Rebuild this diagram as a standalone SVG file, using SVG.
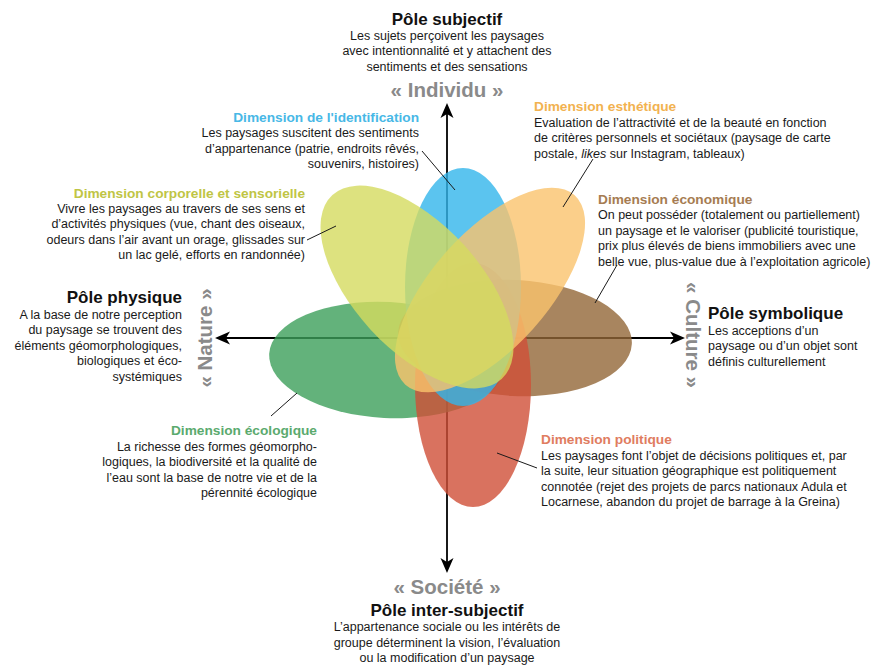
<svg xmlns="http://www.w3.org/2000/svg" width="871" height="668" viewBox="0 0 871 668">
<defs>
<style>
text{font-family:"Liberation Sans",Arial,sans-serif;font-size:12.5px;fill:#1a1a1a}
.h{font-weight:bold;font-size:13.7px}
.p{font-weight:bold;font-size:17px;fill:#111}
.g{font-weight:bold;font-size:20.5px;fill:#8a8a8a}
.r{text-anchor:end}
.m{text-anchor:middle}
.lead{stroke:#1a1a1a;stroke-width:1;fill:none}
.axis{stroke:#000;stroke-width:1.8;fill:none}
.petal{opacity:0.8}
</style>
<marker id="arr" viewBox="-8 -7 17 14" markerWidth="17" markerHeight="14" refX="0" refY="0" orient="auto-start-reverse" markerUnits="userSpaceOnUse">
<path d="M8,0 L-7,-6.5 L-3,0 L-7,6.5 Z" fill="#000"/>
</marker>
</defs>
<rect width="871" height="668" fill="#fff"/>

<g id="axes">
<path class="axis" d="M447,111 V565" marker-start="url(#arr)" marker-end="url(#arr)"/>
<path class="axis" d="M223,338 H677" marker-start="url(#arr)" marker-end="url(#arr)"/>
</g>

<g id="dim-ecologique">
<ellipse class="petal" cx="0" cy="0" rx="118" ry="58" transform="translate(387 360) rotate(3)" fill="#3C9F5A"/>
<text class="r" x="317"><tspan class="h" x="317" y="435" style="fill:#5BAA6E">Dimension écologique</tspan><tspan x="317" y="450.5">La richesse des formes géomorpho-</tspan><tspan x="317" y="466">logiques, la biodiversité et la qualité de</tspan><tspan x="317" y="481.5">l’eau sont la base de notre vie et de la</tspan><tspan x="317" y="497">pérennité écologique</tspan></text>
</g>

<g id="dim-economique">
<ellipse class="petal" cx="0" cy="0" rx="117" ry="58" transform="translate(515 338) rotate(3)" fill="#926637"/>
<text x="598"><tspan class="h" x="598" y="203.5" style="fill:#A67C52">Dimension économique</tspan><tspan x="598" y="219">On peut posséder (totalement ou partiellement)</tspan><tspan x="598" y="234.5">un paysage et le valoriser (publicité touristique,</tspan><tspan x="598" y="250">prix plus élevés de biens immobiliers avec une</tspan><tspan x="598" y="265.5">belle vue, plus-value due à l’exploitation agricole)</tspan></text>
</g>

<g id="dim-politique">
<ellipse class="petal" cx="473" cy="385" rx="58" ry="122" fill="#D04F37"/>
<text x="541"><tspan class="h" x="541" y="444" style="fill:#E07C60">Dimension politique</tspan><tspan x="541" y="459.5">Les paysages font l’objet de décisions politiques et, par</tspan><tspan x="541" y="475">la suite, leur situation géographique est politiquement</tspan><tspan x="541" y="490.5">connotée (rejet des projets de parcs nationaux Adula et</tspan><tspan x="541" y="506">Locarnese, abandon du projet de barrage à la Greina)</tspan></text>
</g>

<g id="dim-identification">
<ellipse class="petal" cx="463" cy="287" rx="58" ry="119" fill="#32B5EB"/>
<text class="r" x="419"><tspan class="h" x="419" y="122" style="fill:#48B8E6">Dimension de l'identification</tspan><tspan x="419" y="137">Les paysages suscitent des sentiments</tspan><tspan x="419" y="152.5">d’appartenance (patrie, endroits rêvés,</tspan><tspan x="419" y="168">souvenirs, histoires)</tspan></text>
</g>

<g id="dim-esthetique">
<ellipse class="petal" cx="0" cy="0" rx="58" ry="127" transform="translate(490 290) rotate(41.8)" fill="#FAC36D"/>
<text x="534"><tspan class="h" x="534" y="111" style="fill:#F2B250">Dimension esthétique</tspan><tspan x="534" y="126.5">Evaluation de l’attractivité et de la beauté en fonction</tspan><tspan x="534" y="142">de critères personnels et sociétaux (paysage de carte</tspan><tspan x="534" y="157.5">postale, <tspan font-style="italic">likes</tspan> sur Instagram, tableaux)</tspan></text>
</g>

<g id="dim-corporelle">
<ellipse class="petal" cx="0" cy="0" rx="63" ry="125" transform="translate(417 287) rotate(-42.6)" fill="#D4DB5F"/>
<text class="r" x="305"><tspan class="h" x="305" y="197.5" style="fill:#BFC545">Dimension corporelle et sensorielle</tspan><tspan x="305" y="212.5">Vivre les paysages au travers de ses sens et</tspan><tspan x="305" y="228">d’activités physiques (vue, chant des oiseaux,</tspan><tspan x="305" y="243.5">odeurs dans l’air avant un orage, glissades sur</tspan><tspan x="305" y="259">un lac gelé, efforts en randonnée)</tspan></text>
</g>

<g id="pole-subjectif">
<text class="p m" x="447" y="24.5">Pôle subjectif</text>
<text class="m" x="447"><tspan x="447" y="39.5">Les sujets perçoivent les paysages</tspan><tspan x="447" y="55">avec intentionnalité et y attachent des</tspan><tspan x="447" y="70.5">sentiments et des sensations</tspan></text>
<text class="g m" x="447" y="97">« Individu »</text>
</g>

<g id="pole-physique">
<text class="p r" x="182" y="303">Pôle physique</text>
<text class="r" x="182"><tspan x="182" y="318.5">A la base de notre perception</tspan><tspan x="182" y="334">du paysage se trouvent des</tspan><tspan x="182" y="349.5">éléments géomorphologiques,</tspan><tspan x="182" y="365">biologiques et éco-</tspan><tspan x="182" y="380.5">systémiques</tspan></text>
<text class="g m" transform="translate(212 338) rotate(-90)">« Nature »</text>
</g>

<g id="pole-symbolique">
<text class="g m" transform="translate(686 335) rotate(90)">« Culture »</text>
<text class="p" x="708" y="319">Pôle symbolique</text>
<text x="708"><tspan x="708" y="334.5">Les acceptions d’un</tspan><tspan x="708" y="350">paysage ou d’un objet sont</tspan><tspan x="708" y="365.5">définis culturellement</tspan></text>
</g>

<g id="pole-intersubjectif">
<text class="g m" x="447" y="594">« Société »</text>
<text class="p m" x="447" y="616">Pôle inter-subjectif</text>
<text class="m" x="447"><tspan x="447" y="631">L’appartenance sociale ou les intérêts de</tspan><tspan x="447" y="646.5">groupe déterminent la vision, l’évaluation</tspan><tspan x="447" y="662">ou la modification d’un paysage</tspan></text>
</g>

<g id="connectors">
<line class="lead" x1="422" y1="151" x2="455" y2="190"/>
<line class="lead" x1="593" y1="159" x2="563" y2="207"/>
<line class="lead" x1="307" y1="240" x2="336" y2="226"/>
<line class="lead" x1="617" y1="265" x2="595" y2="303"/>
<line class="lead" x1="271" y1="416" x2="297" y2="393"/>
<line class="lead" x1="537" y1="468" x2="497" y2="453"/>
</g>
</svg>
